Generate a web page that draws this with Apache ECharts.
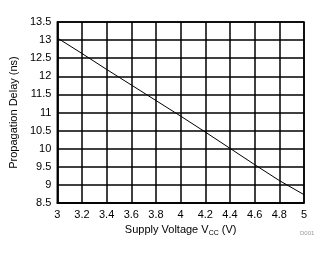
<!DOCTYPE html>
<html><head><meta charset="utf-8">
<script src="https://cdn.jsdelivr.net/npm/echarts@6/dist/echarts.min.js"></script>
<style>html,body{margin:0;padding:0;background:#fff;}#c{width:333px;height:254px;}</style>
</head><body><div id="c"></div>
<script>
const supplyVoltage = [3.0, 3.2, 3.4, 3.6, 3.8, 4.0, 4.2, 4.4, 4.6, 4.8, 5.0];
const propagationDelay = [13.06, 12.63, 12.19, 11.76, 11.33, 10.9, 10.46, 10.01, 9.56, 9.12, 8.73];
const xTicks = { min: 3, max: 5, interval: 0.2 };
const yTicks = { min: 8.5, max: 13.5, interval: 0.5 };

const chart = echarts.init(document.getElementById('c'), null, {renderer: 'canvas'});
const font = 'Liberation Sans, Arial, sans-serif';
chart.setOption({
  animation: false,
  grid: { left: 50, right: 29, top: 22, bottom: 51, show: true, borderColor: '#000', borderWidth: 1.5 },
  xAxis: {
    type: 'value', min: xTicks.min, max: xTicks.max, interval: xTicks.interval,
    name: '{a|Supply Voltage V}{s|CC}{a| (V)}', nameLocation: 'middle', nameGap: 19,
    nameTextStyle: { rich: { a: { fontFamily: font, fontSize: 11, color: '#000' }, s: { fontFamily: font, fontSize: 7, color: '#000', padding: [5,0,0,0] } } },
    axisLine: { show: true, lineStyle: { color: '#000', width: 1.5 } },
    axisTick: { show: false },
    axisLabel: { color: '#000', fontFamily: font, fontSize: 11, margin: 6,
      formatter: v => String(Math.round(v*10)/10) },
    splitLine: { show: true, lineStyle: { color: '#000', width: 1.5 } }
  },
  yAxis: {
    type: 'value', min: yTicks.min, max: yTicks.max, interval: yTicks.interval,
    name: 'Propagation Delay (ns)', nameLocation: 'middle', nameGap: 33,
    nameTextStyle: { fontFamily: font, fontSize: 11, color: '#000' },
    axisLine: { show: true, lineStyle: { color: '#000', width: 1.5 } },
    axisTick: { show: false },
    axisLabel: { color: '#000', fontFamily: font, fontSize: 11, margin: 6 },
    splitLine: { show: true, lineStyle: { color: '#000', width: 1.5 } }
  },
  graphic: [{ type: 'text', left: 300, top: 230, style: { text: 'D001', fontSize: 6, fill: '#999', fontFamily: font } }],
  series: [{
    type: 'line', data: supplyVoltage.map((x, i) => [x, propagationDelay[i]]),
    showSymbol: false, lineStyle: { color: '#000', width: 1 }, smooth: false
  }]
});
</script></body></html>
